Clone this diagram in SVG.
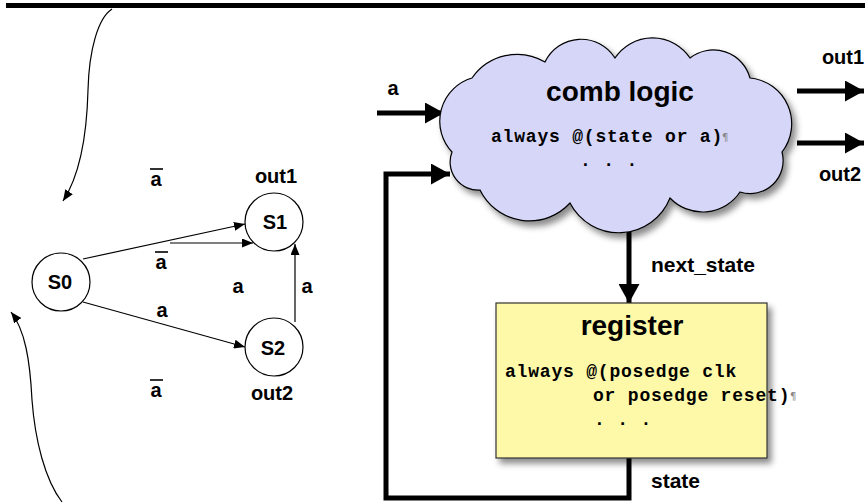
<svg xmlns="http://www.w3.org/2000/svg" width="865" height="503" viewBox="0 0 865 503">
<style>
.lbl{font-family:"Liberation Sans",Arial,sans-serif;font-weight:bold;font-size:20px;fill:#000}
.rl{font-size:21px}
.title{font-family:"Liberation Sans",Arial,sans-serif;font-weight:bold;font-size:28px;fill:#000}
.code{font-family:"Liberation Mono","Courier New",monospace;font-weight:bold;font-size:18px;letter-spacing:0.8px;fill:#000}
.mark{font-family:"DejaVu Sans",sans-serif;font-size:10px;fill:#888}
.st{fill:#fff;stroke:#000;stroke-width:1.2}
.thin{fill:none;stroke:#000;stroke-width:1.2}
.thick{fill:none;stroke:#000;stroke-width:5}
.ov{stroke:#000;stroke-width:1.6}
</style>
<defs>
<marker id="ah" markerUnits="userSpaceOnUse" markerWidth="11" markerHeight="9" refX="11" refY="4.5" orient="auto">
<path d="M0,0 L11,4.5 L0,9 z" fill="#000"/>
</marker>
<marker id="AH" markerUnits="userSpaceOnUse" markerWidth="19" markerHeight="21" refX="19" refY="10.5" orient="auto">
<path d="M0,0 L19,10.5 L0,21 z" fill="#000"/>
</marker>
<filter id="sh" x="-10%" y="-10%" width="125%" height="130%">
<feDropShadow dx="4" dy="5" stdDeviation="3" flood-color="#000" flood-opacity="0.45"/>
</filter>
</defs>

<rect x="6" y="3" width="859" height="5" fill="#000"/>

<g id="connectors">
<path class="thin" d="M112,9 C98,18 89,50 88,90 C87,130 82,172 63,201" marker-end="url(#ah)"/>
<path class="thin" d="M62,502 C45,480 35,440 32,400 C30,360 25,330 11,312" marker-end="url(#ah)"/>
<line class="thin" x1="83" y1="259" x2="245" y2="224" marker-end="url(#ah)"/>
<line class="thin" x1="170" y1="243" x2="253" y2="243" marker-end="url(#ah)"/>
<line class="thin" x1="83" y1="302" x2="245" y2="347" marker-end="url(#ah)"/>
<line class="thin" x1="295" y1="322" x2="295" y2="244" marker-end="url(#ah)"/>
<line class="thick" x1="377" y1="113" x2="444" y2="113" marker-end="url(#AH)"/>
<path class="thick" d="M629,458 V498 H386 V174 H450" marker-end="url(#AH)"/>
<line class="thick" x1="797" y1="91" x2="864" y2="91" marker-end="url(#AH)"/>
<line class="thick" x1="797" y1="143" x2="864" y2="143" marker-end="url(#AH)"/>
<line class="thick" x1="629" y1="229" x2="629" y2="303" marker-end="url(#AH)"/>
</g>

<g id="edge-labels">
<text class="lbl" x="156" y="186" text-anchor="middle">a</text><line class="ov" x1="150" y1="169" x2="163" y2="169"/>
<text class="lbl" x="161" y="269" text-anchor="middle">a</text><line class="ov" x1="155" y1="252" x2="168" y2="252"/>
<text class="lbl" x="162" y="317" text-anchor="middle">a</text>
<text class="lbl" x="238" y="293" text-anchor="middle">a</text>
<text class="lbl" x="307" y="293" text-anchor="middle">a</text>
<text class="lbl" x="156" y="397" text-anchor="middle">a</text><line class="ov" x1="150" y1="380" x2="163" y2="380"/>
<text class="lbl" x="276" y="183" text-anchor="middle">out1</text>
<text class="lbl" x="272" y="400" text-anchor="middle">out2</text>
<text class="lbl" x="393" y="95" text-anchor="middle">a</text>
<text class="lbl" x="843" y="64" text-anchor="middle">out1</text>
<text class="lbl" x="840" y="181" text-anchor="middle">out2</text>
<text class="lbl rl" x="651" y="272">next_state</text>
<text class="lbl rl" x="651" y="488">state</text>
</g>

<g id="S0">
<circle class="st" cx="61" cy="282" r="29"/>
<text class="lbl" x="60" y="289" text-anchor="middle">S0</text>
</g>
<g id="S1">
<circle class="st" cx="274" cy="222" r="29"/>
<text class="lbl" x="275" y="229" text-anchor="middle">S1</text>
</g>
<g id="S2">
<circle class="st" cx="274" cy="347" r="29"/>
<text class="lbl" x="273" y="355" text-anchor="middle">S2</text>
</g>

<g id="comb-logic">
<path filter="url(#sh)" fill="#d6d6f8" stroke="#000" stroke-width="1.2" d="M452,152 A45,45 0 0 1 472,78 A55,55 0 0 1 545,62 A40,40 0 0 1 615,58 A45,45 0 0 1 690,58 A38,38 0 0 1 750,78 A46,46 0 0 1 782,152 A33,33 0 0 1 740,192 A45,45 0 0 1 670,198 A55,55 0 0 1 570,203 A55,55 0 0 1 480,190 A28,28 0 0 1 452,152 z"/>
<text class="title" x="620" y="101" text-anchor="middle">comb logic</text>
<text class="code" x="491" y="142">always @(state or a)</text>
<text class="mark" x="722" y="141">¶</text>
<text class="code" x="580" y="166">. . .</text>
</g>

<g id="register">
<rect x="496" y="303" width="271" height="155" fill="#fdf9a8" stroke="#333" stroke-width="1.2" filter="url(#sh)"/>
<text class="title" x="632" y="335" text-anchor="middle">register</text>
<text class="code" x="505" y="377">always @(posedge clk</text>
<text class="code" x="593" y="401">or posedge reset)</text>
<text class="mark" x="790" y="400">¶</text>
<text class="code" x="594" y="425">. . .</text>
</g>
</svg>
